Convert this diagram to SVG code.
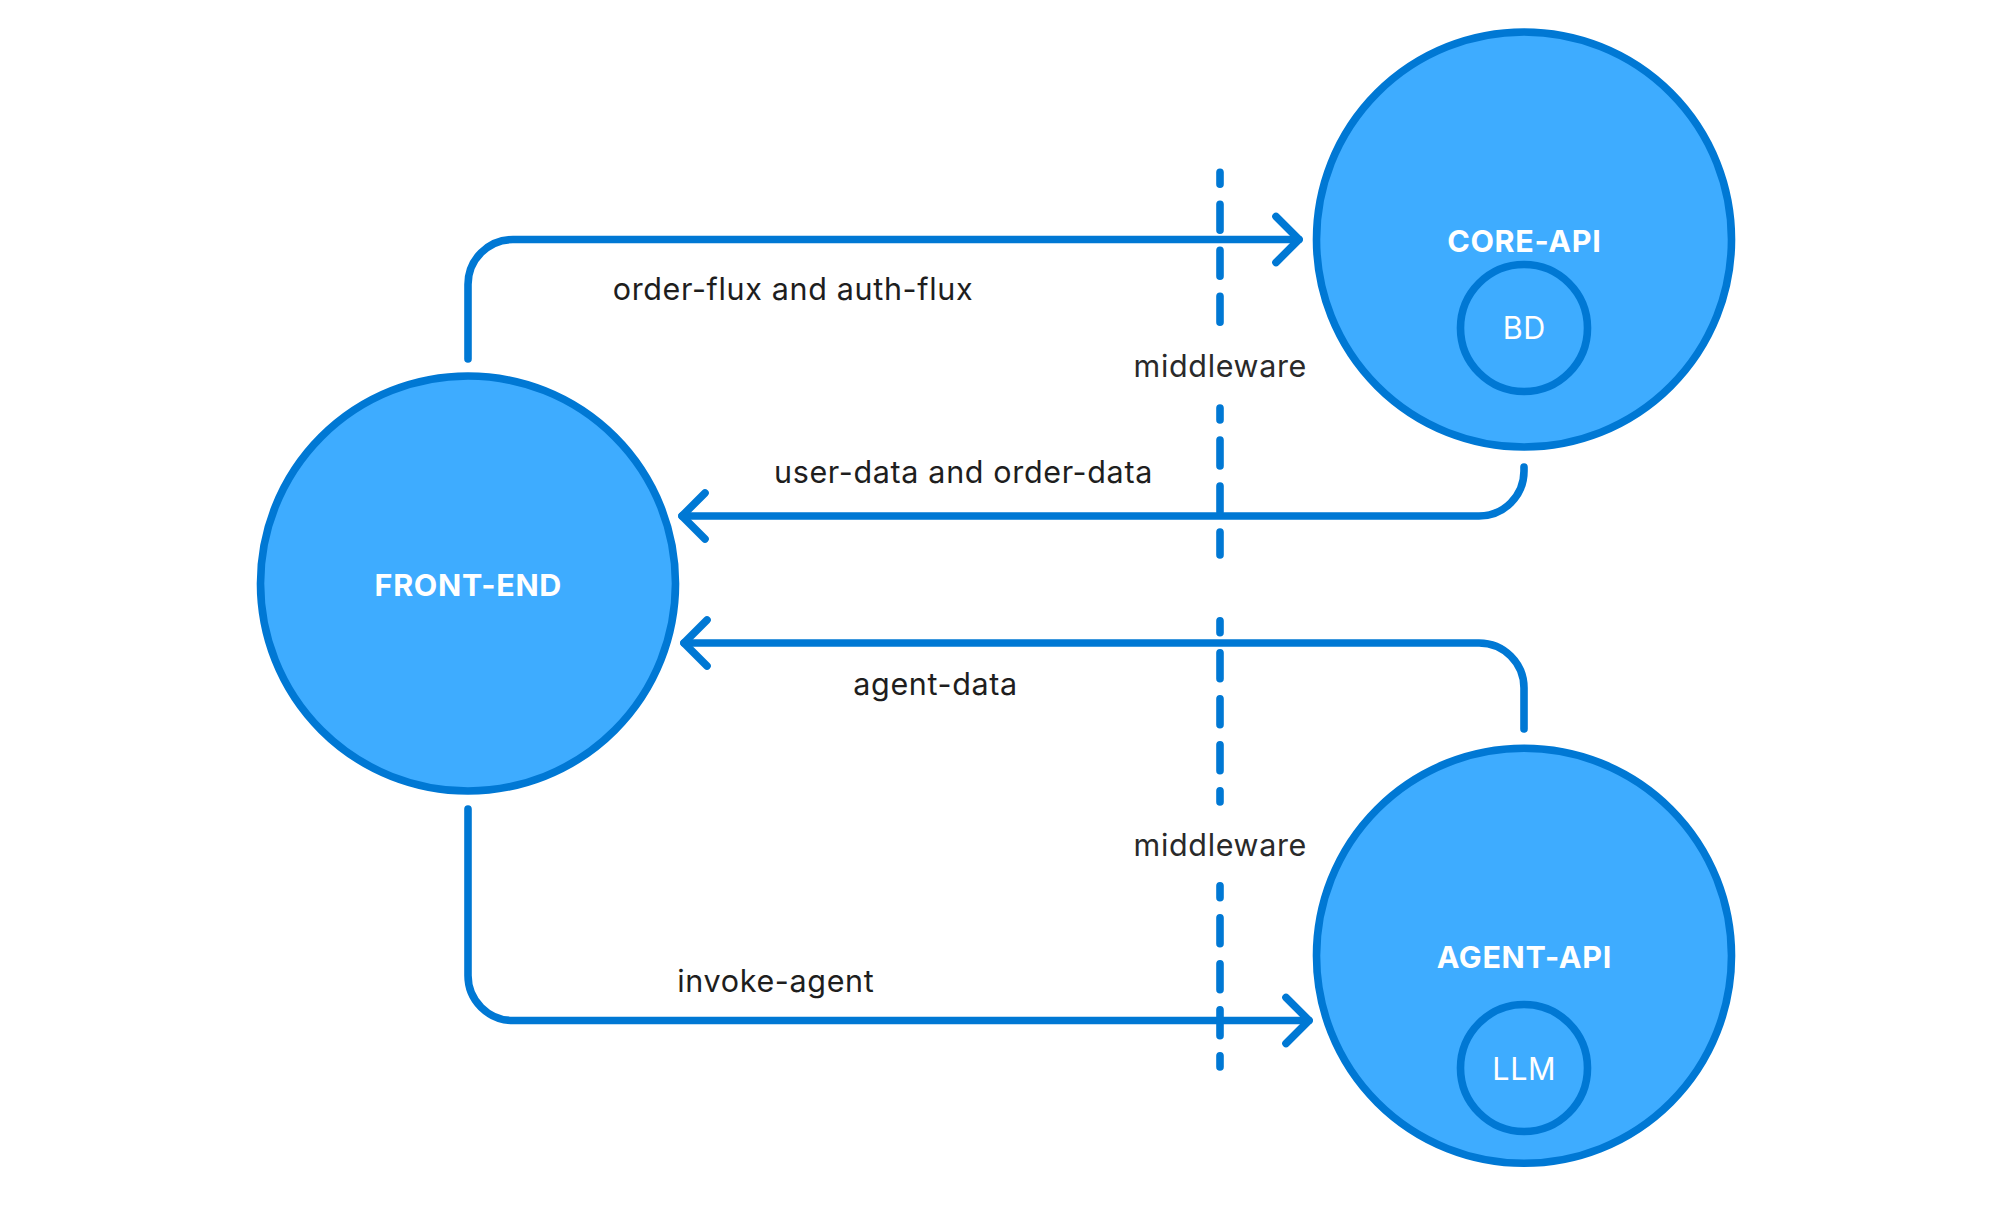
<svg xmlns="http://www.w3.org/2000/svg" width="1992" height="1216" viewBox="0 0 1992 1216">
<style>
text{letter-spacing:0.65px}
.node{fill:#3EACFF;stroke:#0078D4;stroke-width:7.6}
.title{font-family:Inter,"Noto Sans",sans-serif;font-size:30.5px;font-weight:700;fill:#ffffff;text-anchor:middle}
.sub{font-family:Inter,"Noto Sans",sans-serif;font-size:30.5px;font-weight:400;fill:#ffffff;text-anchor:middle}
.edge{fill:none;stroke:#0078D4;stroke-width:7.6;stroke-linecap:round;stroke-linejoin:round}
.dash{fill:none;stroke:#0078D4;stroke-width:7.6;stroke-linecap:round;stroke-dasharray:26 20;stroke-dashoffset:14}
.lbl{font-family:Inter,"Noto Sans",sans-serif;font-size:30.5px;fill:#1e1e1e}
.mid{font-family:Inter,"Noto Sans",sans-serif;font-size:30.5px;fill:#2a2a2a;text-anchor:middle}
</style>
<rect width="1992" height="1216" fill="#ffffff"/>
<g id="connectors">
<path class="edge" d="M468 359 V284.5 A45 45 0 0 1 513 239.5 H1299"/>
<polyline class="edge" points="1276,216.5 1299,239.5 1276,262.5"/>
<path class="edge" d="M1524 467 V471 A45 45 0 0 1 1479 516 H682"/>
<polyline class="edge" points="705,493 682,516 705,539"/>
<path class="edge" d="M1524 729 V688 A45 45 0 0 0 1479 643 H684"/>
<polyline class="edge" points="707,620 684,643 707,666"/>
<path class="edge" d="M468 809 V975.5 A45 45 0 0 0 513 1020.5 H1309"/>
<polyline class="edge" points="1286,997.5 1309,1020.5 1286,1043.5"/>
</g>
<g id="middleware-top">
<line class="dash" x1="1220" y1="172.3" x2="1220" y2="326"/>
<line class="dash" x1="1220" y1="408" x2="1220" y2="555"/>
<text class="mid" x="1220.3" y="376.7">middleware</text>
</g>
<g id="middleware-bottom">
<line class="dash" x1="1220" y1="620.7" x2="1220" y2="802"/>
<line class="dash" x1="1220" y1="885.7" x2="1220" y2="1067"/>
<text class="mid" x="1220.3" y="856">middleware</text>
</g>
<g id="edge-labels">
<text class="lbl" x="612.7" y="300">order-flux and auth-flux</text>
<text class="lbl" x="774" y="483.3">user-data and order-data</text>
<text class="lbl" x="853.3" y="695">agent-data</text>
<text class="lbl" x="677.3" y="991.7">invoke-agent</text>
</g>
<g id="front-end">
<circle class="node" cx="468" cy="583.5" r="207.5"/>
<text class="title" x="468.3" y="596">FRONT-END</text>
</g>
<g id="core-api">
<circle class="node" cx="1524" cy="239.5" r="207.5"/>
<text class="title" x="1524.3" y="251.7">CORE-API</text>
<g id="bd">
<circle class="node" cx="1524" cy="328" r="63.5"/>
<text class="sub" x="1524.3" y="339.3">BD</text>
</g>
</g>
<g id="agent-api">
<circle class="node" cx="1524" cy="955.8" r="207.5"/>
<text class="title" x="1524.3" y="967.7">AGENT-API</text>
<g id="llm">
<circle class="node" cx="1524" cy="1068" r="63.5"/>
<text class="sub" x="1524.3" y="1080">LLM</text>
</g>
</g>
</svg>
